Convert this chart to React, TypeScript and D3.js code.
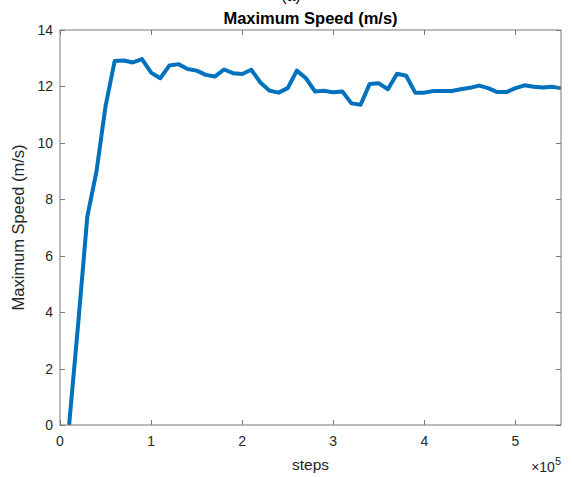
import { useEffect, useRef } from "react";
import * as d3 from "d3";

// steps (in 1e4 units) and maximum speed per evaluation
const steps = d3.range(1, 56).map((i) => i * 1e4);
const maxSpeed = [
  0, 3.6, 7.39, 8.98, 11.3, 12.9, 12.92, 12.85, 12.97, 12.49,
  12.29, 12.74, 12.79, 12.62, 12.56, 12.41, 12.35, 12.6, 12.47, 12.44,
  12.59, 12.14, 11.85, 11.78, 11.94, 12.56, 12.29, 11.82, 11.85, 11.79,
  11.82, 11.4, 11.35, 12.09, 12.11, 11.9, 12.45, 12.38, 11.78, 11.78,
  11.84, 11.84, 11.84, 11.9, 11.95, 12.03, 11.94, 11.8, 11.8, 11.94,
  12.04, 11.99, 11.96, 11.99, 11.94,
];
const xTicks = [0, 1, 2, 3, 4, 5];
const yTicks = [0, 2, 4, 6, 8, 10, 12, 14];

const W = 572;
const H = 477;
const m = { left: 60, right: 11, top: 30, bottom: 52 };

export default function App() {
  const ref = useRef<SVGSVGElement>(null);

  useEffect(() => {
    const svg = d3.select(ref.current);
    svg.selectAll("*").remove();

    const x = d3.scaleLinear().domain([0, 5.5e5]).range([m.left, W - m.right]);
    const y = d3.scaleLinear().domain([0, 14]).range([H - m.bottom, m.top]);
    const font = "Arial, 'Liberation Sans', sans-serif";
    const axisCol = "#7a7a7a";
    const textCol = "#262626";
    const tl = 5;

    const g = svg.append("g");

    // line
    const line = d3
      .line<number>()
      .x((_, i) => x(steps[i]))
      .y((d) => y(d));
    g.append("path")
      .datum(maxSpeed)
      .attr("d", line)
      .attr("fill", "none")
      .attr("stroke", "#0072BD")
      .attr("stroke-width", 4)
      .attr("stroke-linejoin", "round");

    // box
    g.append("rect")
      .attr("x", x(0))
      .attr("y", y(14))
      .attr("width", x(5.5e5) - x(0))
      .attr("height", y(0) - y(14))
      .attr("fill", "none")
      .attr("stroke", axisCol)
      .attr("stroke-width", 1);

    // ticks x
    xTicks.forEach((t) => {
      const px = Math.round(x(t * 1e5)) + 0.5;
      g.append("line").attr("x1", px).attr("x2", px).attr("y1", y(0)).attr("y2", y(0) - tl).attr("stroke", axisCol);
      g.append("line").attr("x1", px).attr("x2", px).attr("y1", y(14)).attr("y2", y(14) + tl).attr("stroke", axisCol);
      g.append("text")
        .attr("x", x(t * 1e5))
        .attr("y", y(0) + 21)
        .attr("text-anchor", "middle")
        .attr("font-family", font)
        .attr("font-size", 14)
        .attr("fill", textCol)
        .text(t);
    });

    // ticks y
    yTicks.forEach((t) => {
      const py = Math.round(y(t)) + 0.5;
      g.append("line").attr("x1", x(0)).attr("x2", x(0) + tl).attr("y1", py).attr("y2", py).attr("stroke", axisCol);
      g.append("line").attr("x1", x(5.5e5)).attr("x2", x(5.5e5) - tl).attr("y1", py).attr("y2", py).attr("stroke", axisCol);
      g.append("text")
        .attr("x", x(0) - 7)
        .attr("y", y(t) + 5)
        .attr("text-anchor", "end")
        .attr("font-family", font)
        .attr("font-size", 14)
        .attr("fill", textCol)
        .text(t);
    });

    // exponent
    const ex = g
      .append("text")
      .attr("x", W - m.right)
      .attr("y", 472)
      .attr("text-anchor", "end")
      .attr("font-family", font)
      .attr("font-size", 14)
      .attr("fill", textCol);
    ex.append("tspan").text("\u00d710");
    ex.append("tspan").attr("dy", -7).attr("font-size", 11).text("5");

    // labels
    g.append("text")
      .attr("x", (x(0) + x(5.5e5)) / 2)
      .attr("y", 470)
      .attr("text-anchor", "middle")
      .attr("font-family", font)
      .attr("font-size", 15.5)
      .attr("fill", textCol)
      .text("steps");

    g.append("text")
      .attr("transform", `translate(24,${(y(0) + y(14)) / 2}) rotate(-90)`)
      .attr("text-anchor", "middle")
      .attr("font-family", font)
      .attr("font-size", 16.5)
      .attr("fill", textCol)
      .text("Maximum Speed (m/s)");

    g.append("text")
      .attr("x", 291)
      .attr("y", 1)
      .attr("text-anchor", "middle")
      .attr("font-family", font)
      .attr("font-size", 16)
      .attr("fill", "#000")
      .text("(a)");

    g.append("text")
      .attr("x", (x(0) + x(5.5e5)) / 2)
      .attr("y", 24)
      .attr("text-anchor", "middle")
      .attr("font-family", font)
      .attr("font-size", 16.5)
      .attr("font-weight", "bold")
      .attr("fill", "#000")
      .text("Maximum Speed (m/s)");
  }, []);

  return (
    <svg
      ref={ref}
      width={W}
      height={H}
      style={{ position: "absolute", left: 0, top: 0, background: "#fff" }}
    />
  );
}
